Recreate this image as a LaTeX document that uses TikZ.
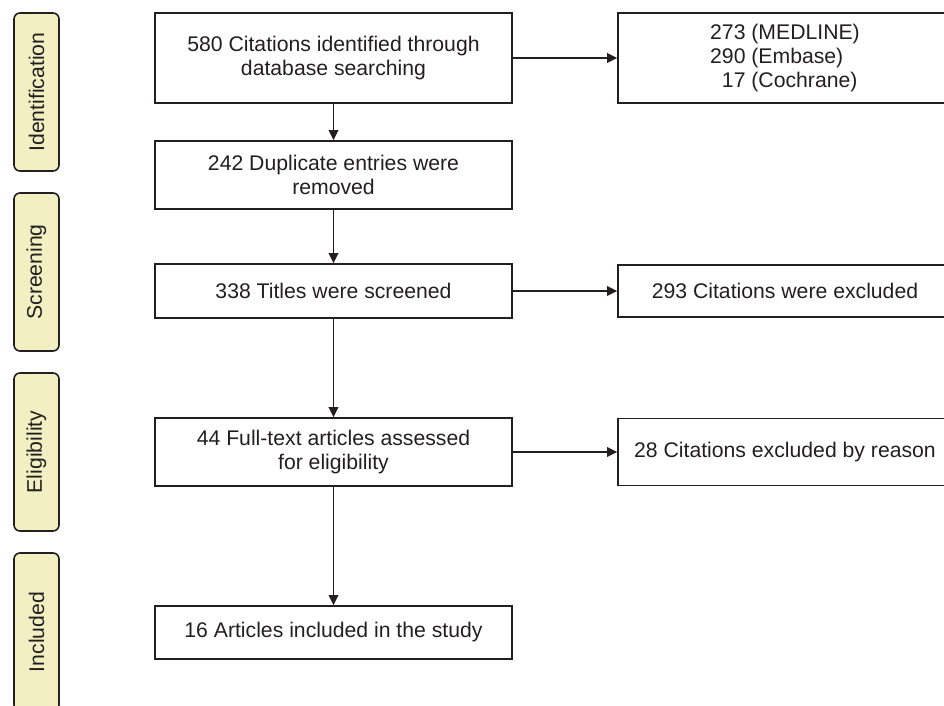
\documentclass[tikz,border=0pt]{standalone}
\usepackage{fontspec}
\setmainfont{Liberation Sans}
\usetikzlibrary{arrows.meta, positioning}

\definecolor{inkc}{RGB}{35,31,32}
\definecolor{stagefill}{RGB}{242,240,194}

\begin{document}
\begin{tikzpicture}[x=0.5pt, y=-0.5pt,
    mainbox/.style={draw=inkc, line width=0.8pt, minimum width=178.5pt, align=center,
                    text=inkc, font=\fontsize{10.6}{12}\selectfont},
    sidebox/.style={draw=inkc, line width=0.8pt, minimum width=167pt, align=center,
                    text=inkc, font=\fontsize{10.6}{12}\selectfont},
    stage/.style={draw=inkc, fill=stagefill, line width=0.8pt, rounded corners=3pt,
                  rotate=90, minimum width=79pt, minimum height=22.5pt,
                  text=inkc, font=\fontsize{10.6}{12}\selectfont},
    flow/.style={draw=inkc, line width=0.8pt, -{Triangle[length=5pt, width=4.8pt]}}]
    \clip (0,0) rectangle (944,706);
    % stages on the left
    \node[stage] (ident) at (36.5,92) {Identification};
    \node[stage] (screen) at (36.5,272) {Screening};
    \node[stage] (elig) at (36.5,452) {Eligibility};
    \node[stage] (incl) at (36.5,632) {Included};
    % main column
    \node[mainbox, minimum height=45pt] (found) at (333.5,58) {580 Citations identified through\\database searching};
    \node[mainbox, minimum height=34pt] (dupl) at (333.5,175) {242 Duplicate entries were\\removed};
    \node[mainbox, minimum height=27pt] (titles) at (333.5,291) {338 Titles were screened};
    \node[mainbox, minimum height=34pt] (fulltext) at (333.5,452) {44 Full-text articles assessed\\for eligibility};
    \node[mainbox, minimum height=26.5pt] (final) at (333.5,632.5) {16 Articles included in the study};
    % right column
    \node[sidebox, minimum height=45pt, align=left] (dbs) at (785,58) {273 (MEDLINE)\\290 (Embase)\\\hphantom{2}17 (Cochrane)};
    \node[sidebox, minimum height=26pt] (excl) at (785,291) {293 Citations were excluded};
    \node[sidebox, minimum height=33.5pt] (reason) at (785,452) {28 Citations excluded by reason};
    % arrows
    \draw[flow] (found) -- (dupl);
    \draw[flow] (dupl) -- (titles);
    \draw[flow] (titles) -- (fulltext);
    \draw[flow] (fulltext) -- (final);
    \draw[flow] (found) -- (dbs);
    \draw[flow] (titles) -- (excl);
    \draw[flow] (fulltext) -- (reason);
\end{tikzpicture}
\end{document}
